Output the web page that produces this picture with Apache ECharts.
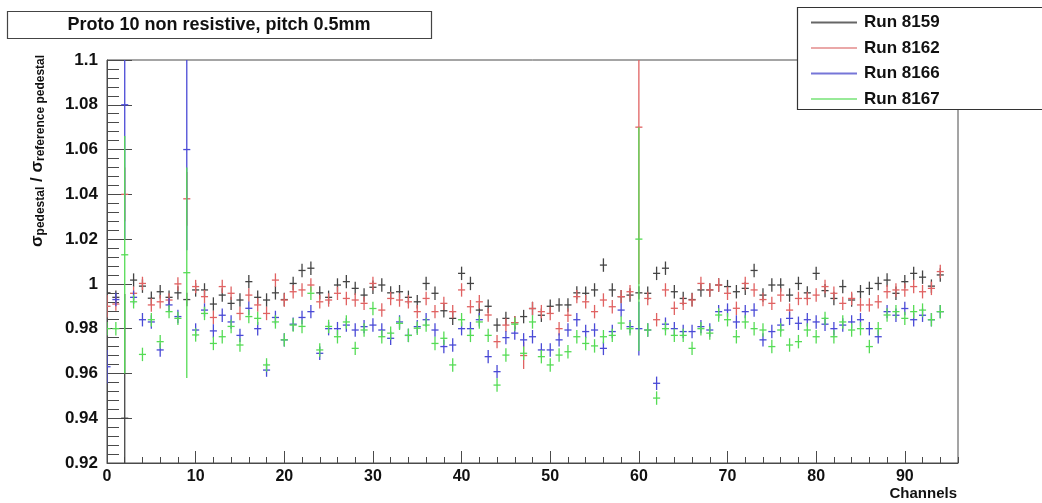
<!DOCTYPE html>
<html>
<head>
<meta charset="utf-8">
<script src="https://cdn.jsdelivr.net/npm/echarts@6/dist/echarts.min.js"></script>
<style>
  html, body { margin: 0; padding: 0; background: #fff; }
  #chart { width: 1042px; height: 503px; }
</style>
</head>
<body>
<div id="chart"></div>
<script>
// Pedestal width ratio per channel, four runs (channels 0..94)
const channels = Array.from({ length: 95 }, (_, i) => i);

const run8159 = [
  0.996, 0.994, 0.940, 1.0017, 0.999, 0.9936, 0.9965, 0.994, 0.996, 0.993,
  0.9973, 0.9973, 0.991, 0.995, 0.9913, 0.9928, 1.001, 0.994, 0.9928, 0.996,
  0.993, 1.0002, 1.006, 1.007, 0.996, 0.994, 0.9995, 1.001, 0.998, 0.995,
  0.9985, 0.9995, 0.996, 0.9965, 0.994, 0.992, 1.0002, 0.9958, 0.988, 0.9846,
  1.0047, 1.0002, 0.9883, 0.990, 0.9816, 0.9846, 0.9827, 0.9854, 0.989, 0.986,
  0.990, 0.9906, 0.9906, 0.996, 0.9958, 0.9973, 1.0084, 0.9973, 0.9943, 0.995,
  0.996, 0.9958, 1.0047, 1.007, 0.9965, 0.9935, 0.993, 0.9973, 0.9973, 0.9995,
  0.9988, 0.9965, 0.998, 1.006, 0.995, 0.9995, 0.9995, 0.995, 1.0002, 0.996,
  1.0047, 0.997, 0.9935, 0.9988, 0.9928, 0.9965, 0.998, 1.0002, 1.0017, 0.9958,
  1.001, 1.0047, 1.003, 0.999, 1.004
];
const run8162 = [
  0.990, 0.991, 1.040, 0.9958, 1.0002, 0.9906, 0.992, 0.9928, 1.000, 1.038,
  0.9988, 0.9943, 0.985, 0.9988, 0.9958, 0.9868, 0.995, 0.9906, 0.9868, 1.0017,
  0.9928, 0.9965, 0.9973, 0.9995, 0.992, 0.9928, 0.9958, 0.9935, 0.9928, 0.9913,
  1.0002, 0.9883, 0.9935, 0.9928, 0.992, 0.9876, 0.9935, 0.9876, 0.9913, 0.9876,
  0.9973, 0.9898, 0.992, 0.9861, 0.9742, 0.9816, 0.9827, 0.968, 0.989, 0.9876,
  0.9868, 0.980, 0.986, 0.9943, 0.992, 0.9876, 0.9928, 0.9898, 0.9943, 0.9965,
  1.070, 0.9935, 0.984, 0.9973, 0.9891, 0.9913, 0.9928, 1.0002, 0.9973, 0.9995,
  0.9958, 0.9891, 1.0002, 0.9973, 0.993, 0.9913, 0.995, 0.9883, 0.9935, 0.9935,
  0.995, 0.9988, 0.9958, 0.9913, 0.9935, 0.9906, 0.9906, 0.992, 0.9965, 0.9973,
  0.9973, 0.9988, 0.9965, 0.998, 1.0055
];
const run8166 = [
  0.963, 0.993, 1.080, 0.994, 0.984, 0.983, 0.9705, 0.9906, 0.9854, 1.060,
  0.9794, 0.9883, 0.979, 0.986, 0.983, 0.977, 0.9891, 0.980, 0.9615, 0.985,
  0.975, 0.982, 0.985, 0.9876, 0.969, 0.980, 0.980, 0.9816, 0.9794, 0.9809,
  0.9816, 0.9794, 0.9757, 0.983, 0.977, 0.9809, 0.984, 0.9794, 0.972, 0.9727,
  0.980, 0.980, 0.984, 0.9675, 0.9608, 0.976, 0.978, 0.975, 0.9764, 0.9705,
  0.9705, 0.975, 0.9794, 0.984, 0.9787, 0.9794, 0.9712, 0.9787, 0.9883, 0.9809,
  0.980, 0.9794, 0.9556, 0.982, 0.980, 0.9787, 0.9787, 0.9809, 0.9794, 0.9876,
  0.9883, 0.983, 0.9876, 0.9883, 0.975, 0.9787, 0.9816, 0.9846, 0.9824, 0.984,
  0.983, 0.982, 0.980, 0.9816, 0.983, 0.984, 0.980, 0.9764, 0.9876, 0.986,
  0.989, 0.984, 0.986, 0.984, 0.9876
];
const run8167 = [
  0.980, 0.980, 1.013, 0.992, 0.9685, 0.984, 0.9742, 0.9876, 0.9846, 1.005,
  0.9772, 0.9868, 0.9734, 0.9764, 0.981, 0.9727, 0.9854, 0.9846, 0.9638, 0.983,
  0.975, 0.9816, 0.981, 0.9958, 0.9705, 0.981, 0.9764, 0.983, 0.9712, 0.9794,
  0.989, 0.9764, 0.978, 0.9824, 0.977, 0.9802, 0.9816, 0.9734, 0.9757, 0.9638,
  0.984, 0.977, 0.983, 0.977, 0.9548, 0.9682, 0.982, 0.969, 0.983, 0.9675,
  0.9638, 0.9682, 0.9697, 0.9764, 0.9734, 0.9723, 0.9764, 0.977, 0.9825, 0.980,
  1.020, 0.9794, 0.949, 0.980, 0.977, 0.977, 0.9712, 0.980, 0.978, 0.9861,
  0.984, 0.9764, 0.983, 0.980, 0.9794, 0.972, 0.9794, 0.9727, 0.9742, 0.9794,
  0.9764, 0.9846, 0.9764, 0.983, 0.9794, 0.980, 0.972, 0.980, 0.9861, 0.9876,
  0.9846, 0.9876, 0.9883, 0.984, 0.9876
];

// Vertical error: typical value, and the channels with large uncertainty
const yErrTypical = 0.003;
const yErrLarge = {
  'Run 8159': { 2: 0.0555 },
  'Run 8162': { 0: 0.005, 2: 0.012, 9: 0.012, 47: 0.006, 60: 0.07 },
  'Run 8166': { 0: 0.0075, 2: 0.06, 9: 0.045, 60: 0.012 },
  'Run 8167': { 2: 0.053, 9: 0.047, 60: 0.05 }
};
// Horizontal half-width of each cross, in channels
const xErr = 0.4;

const runNames = ['Run 8159', 'Run 8162', 'Run 8166', 'Run 8167'];
const runValues = [run8159, run8162, run8166, run8167];
const runColors = ['#444444', '#e06262', '#4a4ad6', '#55dc55'];
const legendColors = ['#666666', '#eaa8a8', '#7676d8', '#98ea98'];

// y-axis ticks
const yMin = 0.92, yMax = 1.1, yStep = 0.02;
// x-axis ticks
const xMin = 0, xMax = 96, xStep = 10, xMinorStep = 2;

const FONT = '"Liberation Sans", Arial, Helvetica, sans-serif';

function buildRows(name, values) {
  const big = yErrLarge[name] || {};
  return channels.map((c, i) => [c, values[i], big[c] !== undefined ? big[c] : yErrTypical]);
}

function makeRenderer(color) {
  return function (params, api) {
    const x = api.value(0), y = api.value(1), e = api.value(2);
    const c = api.coord([x, y]);
    const top = api.coord([x, y + e]);
    const bot = api.coord([x, y - e]);
    const l = api.coord([x - xErr, y]);
    const r = api.coord([x + xErr, y]);
    const st = { stroke: color, lineWidth: 1.3 };
    return {
      type: 'group',
      children: [
        { type: 'line', shape: { x1: c[0], y1: top[1], x2: c[0], y2: bot[1] }, style: st },
        { type: 'line', shape: { x1: l[0], y1: c[1], x2: r[0], y2: c[1] }, style: st }
      ]
    };
  };
}

const chart = echarts.init(document.getElementById('chart'), null, { renderer: 'canvas' });

const series = runNames.map((name, k) => ({
  name: name,
  type: 'custom',
  xAxisIndex: 0,
  yAxisIndex: 0,
  clip: true,
  renderItem: makeRenderer(runColors[k]),
  itemStyle: { color: runColors[k] },
  encode: { x: 0, y: 1 },
  data: buildRows(name, runValues[k]),
  z: 2 + k
}));

const legendRows = runNames.map((name, k) => ({
  name: name,
  icon: 'rect',
  itemStyle: { color: legendColors[k] }
}));

chart.setOption({
  animation: false,
  backgroundColor: '#ffffff',
  grid: {
    left: 107, right: 84, top: 60, bottom: 40,
    show: true, borderColor: '#4a4a4a', borderWidth: 1, backgroundColor: '#ffffff'
  },
  xAxis: [
    {
      type: 'value', min: xMin, max: xMax, interval: xStep, position: 'bottom',
      axisLine: { show: true, lineStyle: { color: '#4a4a4a' } },
      axisTick: { show: true, inside: true, length: 12, lineStyle: { color: '#4a4a4a' } },
      axisLabel: {
        show: true, showMaxLabel: false, margin: 6, color: '#111',
        fontFamily: FONT, fontWeight: 'bold', fontSize: 16
      },
      splitLine: { show: false }
    },
    {
      type: 'value', min: xMin, max: xMax, interval: xMinorStep, position: 'bottom',
      axisLine: { show: false },
      axisTick: { show: true, inside: true, length: 6, lineStyle: { color: '#4a4a4a' } },
      axisLabel: { show: false },
      splitLine: { show: false }
    }
  ],
  yAxis: {
    type: 'value', min: yMin, max: yMax, interval: yStep,
    axisLine: { show: true, lineStyle: { color: '#4a4a4a' } },
    axisTick: { show: true, inside: true, length: 25, lineStyle: { color: '#4a4a4a' } },
    minorTick: { show: true, splitNumber: 5, length: 12, lineStyle: { color: '#4a4a4a' } },
    axisLabel: {
      margin: 9, color: '#111', fontFamily: FONT, fontWeight: 'bold', fontSize: 17
    },
    splitLine: { show: false }
  },
  legend: {
    orient: 'vertical', left: 806, top: 9,
    itemWidth: 46, itemHeight: 2, itemGap: 8.5,
    textStyle: { fontFamily: FONT, fontWeight: 'bold', fontSize: 17, color: '#111', padding: [0, 0, 0, 2] },
    data: legendRows,
    selectedMode: false,
    z: 20
  },
  graphic: [
    {
      type: 'rect', z: 15, silent: true,
      shape: { x: 797.5, y: 7.5, width: 260, height: 102 },
      style: { fill: '#ffffff', stroke: '#333333', lineWidth: 1.2 }
    },
    {
      type: 'rect', z: 15, silent: true,
      shape: { x: 7.5, y: 11.5, width: 424, height: 27 },
      style: { fill: '#ffffff', stroke: '#444444', lineWidth: 1.2 }
    },
    {
      type: 'text', z: 16, silent: true, x: 219, y: 25,
      style: {
        text: 'Proto 10 non resistive, pitch 0.5mm',
        fontFamily: FONT, fontWeight: 'bold', fontSize: 18, fill: '#111',
        align: 'center', verticalAlign: 'middle'
      }
    },
    {
      type: 'text', z: 16, silent: true, x: 957, y: 494,
      style: {
        text: 'Channels',
        fontFamily: FONT, fontWeight: 'bold', fontSize: 15, fill: '#111',
        align: 'right', verticalAlign: 'middle'
      }
    },
    {
      type: 'text', z: 16, silent: true, x: 37, y: 151, rotation: Math.PI / 2,
      style: {
        text: '{s|σ}{b|pedestal}{s| / σ}{b|reference pedestal}',
        align: 'center', verticalAlign: 'middle', fill: '#111',
        rich: {
          s: { fontFamily: FONT, fontWeight: 'bold', fontSize: 17, fill: '#111', lineHeight: 20 },
          b: { fontFamily: FONT, fontWeight: 'bold', fontSize: 12, fill: '#111', verticalAlign: 'bottom', padding: [9, 0, 0, 0], lineHeight: 13 }
        }
      }
    }
  ],
  series: series
});
</script>
</body>
</html>
